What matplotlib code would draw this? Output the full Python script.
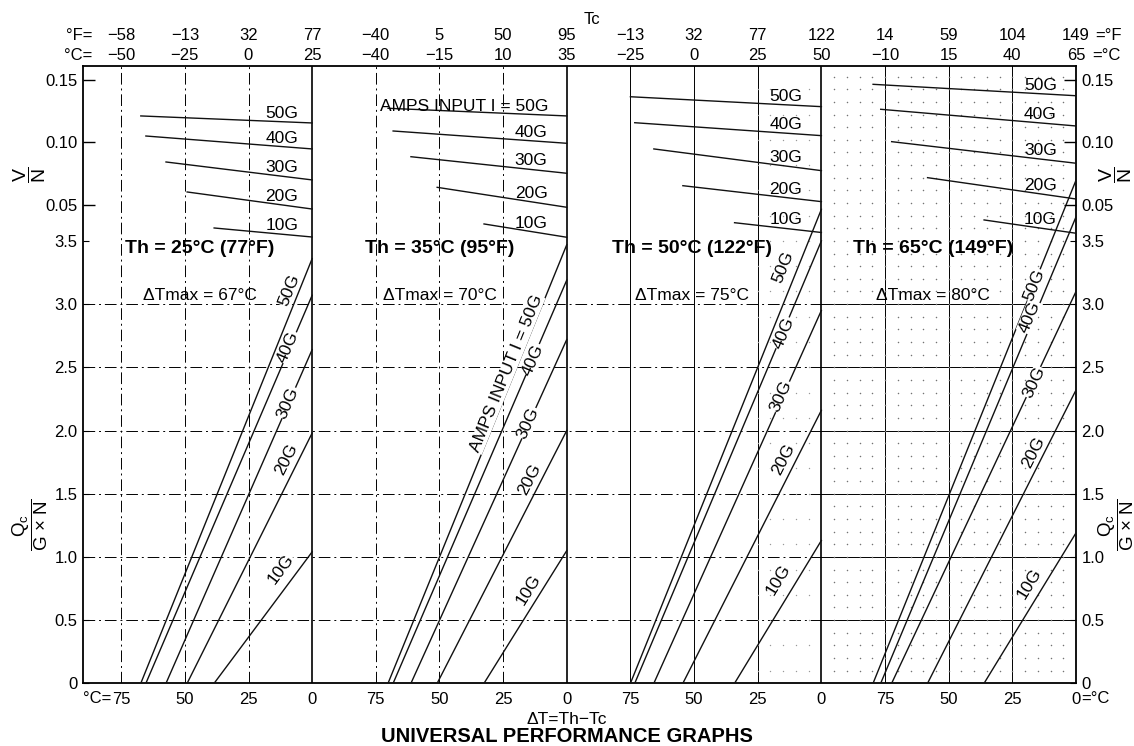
import math
import numpy as np
import matplotlib
matplotlib.use("Agg")
import matplotlib.pyplot as plt

plt.rcParams['font.family'] = ['Liberation Sans', 'DejaVu Sans']
plt.rcParams['mathtext.fontset'] = 'custom'
plt.rcParams['mathtext.rm'] = 'Liberation Sans'
plt.rcParams['mathtext.it'] = 'Liberation Sans:italic'
plt.rcParams['mathtext.bf'] = 'Liberation Sans:bold'

# ---- values (order of currents: 10G .. 50G) ----
thC = [25, 35, 50, 65]
thF = [77, 95, 122, 149]
dtMax = [67, 70, 75, 80]
amps = ["10G", "20G", "30G", "40G", "50G"]
dtTicks = [75, 50, 25, 0]

# delta T where Qc/(GxN) drops to 0
qcZeroDt = [
    [38.5, 49.1, 57.4, 65.3, 67.3],
    [32.5, 50.9, 61.2, 68.2, 70.2],
    [34.1, 54.4, 65.8, 73.3, 75.0],
    [36.1, 58.3, 72.4, 76.7, 79.7],
]
# Qc/(GxN) at delta T = 0
qcAtZero = [
    [1.04, 1.98, 2.64, 3.07, 3.36],
    [1.05, 2.00, 2.72, 3.19, 3.47],
    [1.13, 2.16, 2.95, 3.50, 3.75],
    [1.19, 2.32, 3.10, 3.69, 3.98],
]
# V/N at the start of each line (delta T = qcZeroDt) and at delta T = 0
vnStart = [
    [0.0317, 0.0604, 0.0843, 0.1050, 0.1210],
    [0.0349, 0.0641, 0.0885, 0.1090, 0.1271],
    [0.0359, 0.0654, 0.0947, 0.1156, 0.1363],
    [0.0381, 0.0718, 0.1005, 0.1263, 0.1462],
]
vnEnd = [
    [0.0245, 0.0468, 0.0700, 0.0947, 0.1154],
    [0.0243, 0.0482, 0.0753, 0.0992, 0.1210],
    [0.0281, 0.0527, 0.0774, 0.1053, 0.1284],
    [0.0275, 0.0548, 0.0833, 0.1130, 0.1371],
]

# ---- layout ----
panelWidth = [90, 100, 100, 100]          # delta T span of each panel
rightEdge = list(np.cumsum(panelWidth))   # where delta T = 0 sits for each panel
# centre of each rotated Qc label as (delta T, Qc)
qcLblPos = [
    [(12.2, 0.90), (10.2, 1.77), (9.4, 2.22), (9.4, 2.66), (9.0, 3.11)],
    [(15.1, 0.74), (14.7, 1.61), (15.1, 2.06), (13.1, 2.56), (23.7, 2.45)],
    [(16.9, 0.82), (14.9, 1.77), (15.7, 2.27), (14.9, 2.77), (14.9, 3.29)],
    [(18.3, 0.79), (16.7, 1.83), (16.3, 2.38), (18.3, 2.90), (16.3, 3.15)],
]
vnLblDt = [12, 14, 14, 14]
thDt = [44, 50, 51, 56]


def gx(p, dt):
    # panel-local delta T to the common x coordinate
    return rightEdge[p] - dt


fig = plt.figure(figsize=(11.34, 7.46), dpi=100)
rect = [83 / 1134, 1 - 683.3 / 746, 993 / 1134, 617.3 / 746]
ax = fig.add_axes(rect)
ax.set_xlim(0, rightEdge[-1])
ax.set_ylim(0, 4.884)
for s in ax.spines.values():
    s.set_linewidth(1.3)

# V/N scale lives in the upper part of the same box
axV = fig.add_axes(rect, sharex=ax)
axV.set_ylim(-0.3312, 0.1608)
axV.patch.set_visible(False)
for s in axV.spines.values():
    s.set_visible(False)
axV.xaxis.set_visible(False)

dashDot = (0, (12, 4, 2, 4))
top = ax.get_ylim()[1]

# grid: vertical lines at 75/50/25, heavy separators between panels
for p in range(4):
    style = dashDot if p < 2 else '-'
    for dt in [75, 50, 25]:
        ax.plot([gx(p, dt)] * 2, [0, top], ls=style, lw=0.7, color='k', zorder=1)
    if p < 3:
        ax.plot([rightEdge[p]] * 2, [0, top], lw=1.2, color='k', zorder=2)
for q in [0.5, 1.0, 1.5, 2.0, 2.5, 3.0]:
    ax.plot([0, rightEdge[2]], [q, q], ls=dashDot, lw=0.7, color='k', zorder=1)
    ax.plot([rightEdge[2], rightEdge[3]], [q, q], ls='-', lw=0.7, color='k', zorder=1)

# dotted background in the right-hand graphs
dx, dy = np.meshgrid(np.arange(5, 100, 5), np.arange(0.1, 4.85, 0.1))
ax.scatter(gx(3, dx.ravel()), dy.ravel(), s=1.2, color='0.45', lw=0, zorder=1)
dx, dy = np.meshgrid(np.arange(5, 30, 5), np.arange(0.1, 4.85, 0.2))
ax.scatter(gx(2, dx.ravel()), dy.ravel(), s=1.0, color='0.6', lw=0, zorder=1)

# performance lines
for p in range(4):
    for i in range(len(amps)):
        x0, x1 = gx(p, qcZeroDt[p][i]), gx(p, 0)
        ax.plot([x0, x1], [0, qcAtZero[p][i]], color='#111111', lw=1.0, zorder=3)
        axV.plot([x0, x1], [vnStart[p][i], vnEnd[p][i]], color='#111111', lw=1.0, zorder=3)

        # label along the Qc line (breaks the line where it sits on it)
        a = ax.transData.transform([(x0, 0), (x1, qcAtZero[p][i])])
        ang = math.degrees(math.atan2(a[1][1] - a[0][1], a[1][0] - a[0][0]))
        txt = amps[i]
        if p == 1 and i == 4:
            txt = "AMPS INPUT I = 50G"
        dt, q = qcLblPos[p][i]
        ax.text(gx(p, dt), q, txt, rotation=ang, rotation_mode='anchor', ha='center', va='center',
                fontsize=12.5, zorder=4, bbox=dict(fc='white', ec='none', pad=0.3))

        # label above the V/N line
        dt = vnLblDt[p]
        ha = 'center'
        if p == 1 and i == 4:
            dt, ha = 7.3, 'right'
        v = vnEnd[p][i] + (vnStart[p][i] - vnEnd[p][i]) * dt / qcZeroDt[p][i]
        axV.annotate(txt, (gx(p, dt), v), xytext=(0, 4), textcoords='offset pixels',
                     ha=ha, va='baseline', fontsize=12.5, zorder=4)

# panel headings
for p in range(4):
    ax.text(gx(p, thDt[p]), 3.444, f"Th = {thC[p]}°C ({thF[p]}°F)", ha='center', va='center',
            fontsize=14, fontweight='bold', zorder=4)
    ax.text(gx(p, thDt[p]), 3.07, f"ΔTmax = {dtMax[p]}°C", ha='center', va='center',
            fontsize=12.5, zorder=4)

# bottom axis: delta T
xt, xl = [], []
for p in range(4):
    for dt in dtTicks:
        xt.append(gx(p, dt))
        xl.append(str(dt))
ax.set_xticks(xt)
ax.set_xticklabels(xl)
ax.tick_params(axis='x', length=0, labelsize=12, pad=6)
xtr = ax.get_xaxis_transform()
ax.text(gx(0, 75) - 4, -0.024, "°C=", transform=xtr, ha='right', va='center', fontsize=12)
ax.text(rightEdge[-1] + 2, -0.024, "=°C", transform=xtr, ha='left', va='center', fontsize=12)

# top axis: Tc in °C and °F
for p in range(4):
    for dt in dtTicks:
        tc = thC[p] - dt
        tf = round(tc * 9 / 5 + 32)
        ax.text(gx(p, dt), 1.0162, str(tc).replace('-', '−'), transform=xtr, ha='center', va='center', fontsize=12)
        ax.text(gx(p, dt), 1.0502, str(tf).replace('-', '−'), transform=xtr, ha='center', va='center', fontsize=12)
ax.text(3.8, 1.0162, "°C=", transform=xtr, ha='right', va='center', fontsize=12)
ax.text(3.8, 1.0502, "°F=", transform=xtr, ha='right', va='center', fontsize=12)
ax.text(rightEdge[-1] + 6.5, 1.0162, "=°C", transform=xtr, ha='left', va='center', fontsize=12)
ax.text(rightEdge[-1] + 7.5, 1.0502, "=°F", transform=xtr, ha='left', va='center', fontsize=12)

# left/right scales
ax.set_yticks(np.arange(0, 3.51, 0.5))
ax.set_yticklabels(['0', '0.5', '1.0', '1.5', '2.0', '2.5', '3.0', '3.5'])
ax.tick_params(axis='y', direction='in', length=4, left=True, right=True,
               labelleft=True, labelright=True, labelsize=12, pad=4)
axV.set_yticks([0.05, 0.10, 0.15])
axV.set_yticklabels(['0.05', '0.10', '0.15'])
axV.tick_params(axis='y', direction='in', length=8.5, width=1.0, left=True, right=True,
                labelleft=True, labelright=True, labelsize=12, pad=4)

vLabel = r'$\dfrac{\mathrm{V}}{\mathrm{N}}$'
qLabel = r'$\dfrac{\mathrm{Q}_{\mathrm{c}}}{\mathrm{G\,\times\,N}}$'
for xp in [30, 1116]:
    fig.text(xp / 1134, 1 - 175 / 746, vLabel, rotation=90, ha='center', va='center', fontsize=14)
    fig.text(xp / 1134, 1 - 525 / 746, qLabel, rotation=90, ha='center', va='center', fontsize=13.5)

fig.text(592 / 1134, 1 - 20 / 746, "Tc", ha='center', va='center', fontsize=12)
fig.text(567 / 1134, 1 - 719 / 746, "ΔT=Th−Tc", ha='center', va='center', fontsize=12.5)
fig.text(567 / 1134, 1 - 736 / 746, "UNIVERSAL PERFORMANCE GRAPHS", ha='center', va='center',
         fontsize=14.5, fontweight='bold')

fig.savefig("out.png", dpi=100)
